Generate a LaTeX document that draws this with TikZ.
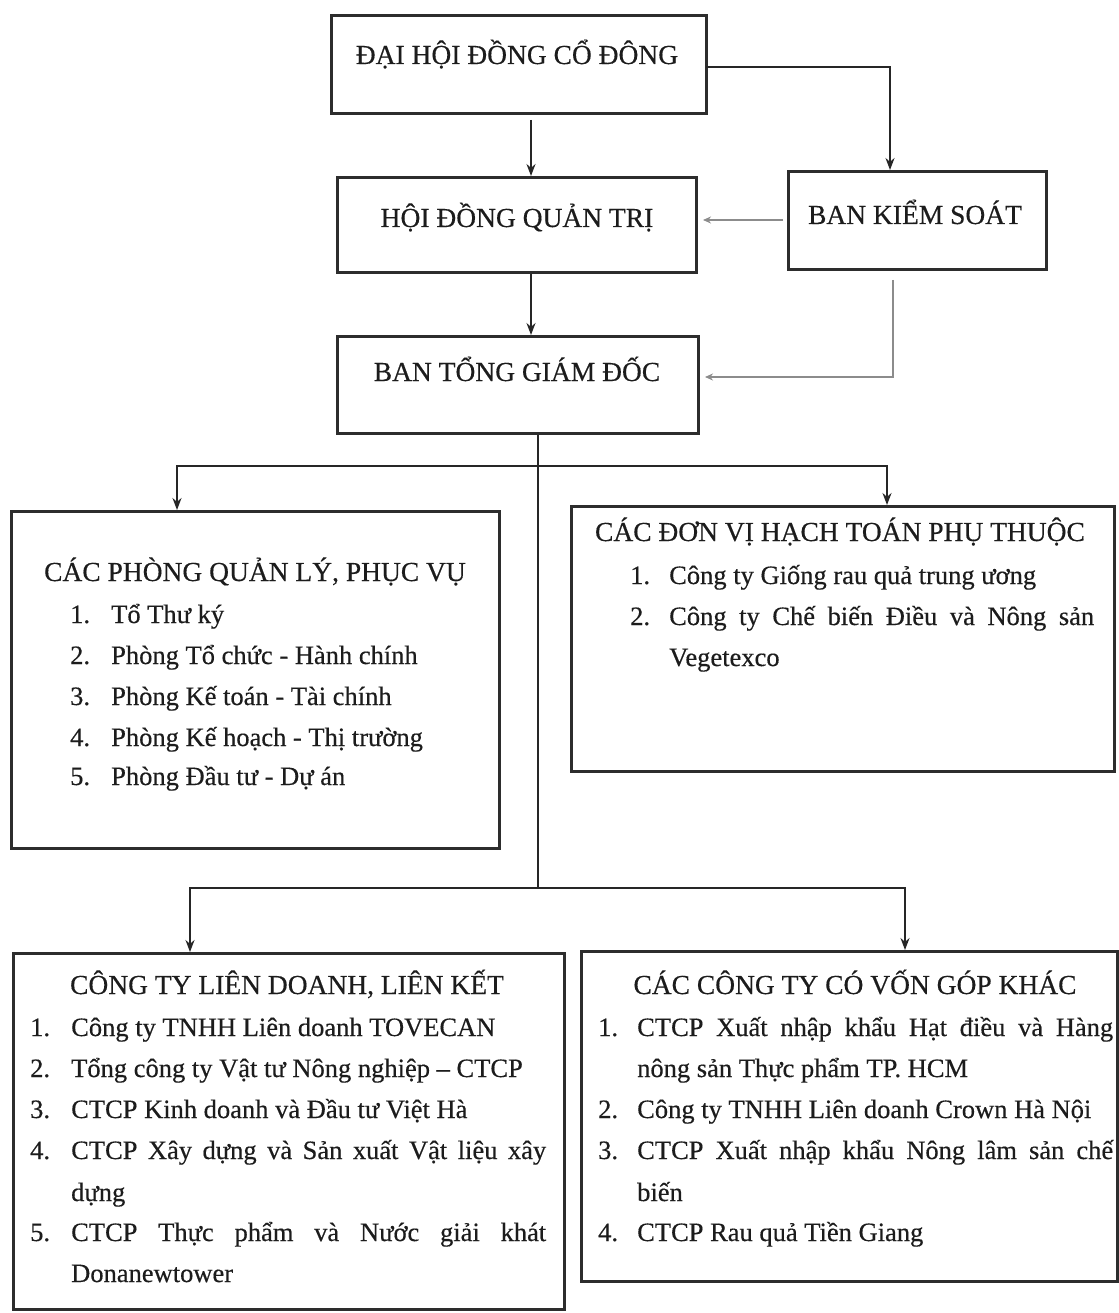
\documentclass[tikz,border=0pt]{standalone}
\usepackage{fontspec}
\setmainfont{Liberation Serif}
\newfontfamily\scanfont{Liberation Serif}[FakeBold=0.4]
\usetikzlibrary{arrows.meta}
\definecolor{txt}{RGB}{28,28,28}
\definecolor{boxc}{RGB}{45,45,45}
\definecolor{gline}{RGB}{140,140,140}
\begin{document}
\begin{tikzpicture}[x=1pt,y=-1pt,
  box/.style={draw=boxc, line width=3pt, inner sep=0pt, anchor=north west},
  conn/.style={draw=black!85, line width=1.6pt, -{Stealth[length=12pt,width=9pt]}},
  plain/.style={draw=black!85, line width=1.6pt},
  gconn/.style={draw=gline, line width=1.3pt, -{Stealth[length=8pt,width=7pt]}},
  ttl/.style={font=\scanfont\fontsize{27.5}{41}\selectfont, text=txt, inner sep=0pt, anchor=base},
  num/.style={font=\scanfont\fontsize{26.5}{41}\selectfont, text=txt, inner sep=0pt, anchor=base west},
  itm/.style={font=\scanfont\fontsize{26.5}{41}\selectfont, text=txt, inner sep=0pt, anchor=base west},
]
\useasboundingbox (0,0) rectangle (1118,1313);
\fill[white] (0,0) rectangle (1118,1313);

% ---- boxes
\node[box, minimum width=375pt, minimum height=98pt] (dh) at (330,14) {};
\node[box, minimum width=359pt, minimum height=95pt] (hd) at (336,176) {};
\node[box, minimum width=258pt, minimum height=98pt] (bks) at (787,170) {};
\node[box, minimum width=361pt, minimum height=97pt] (tgd) at (336,335) {};
\node[box, minimum width=488pt, minimum height=337pt] (pq) at (10,510) {};
\node[box, minimum width=543pt, minimum height=265pt] (dv) at (570,505) {};
\node[box, minimum width=551pt, minimum height=356pt] (ld) at (12,952) {};
\node[box, minimum width=536pt, minimum height=330pt] (vg) at (580,950) {};

% ---- box titles
\node[ttl] (tdh) at (517,64) {ĐẠI HỘI ĐỒNG CỔ ĐÔNG};
\node[ttl] (thd) at (517,227) {HỘI ĐỒNG QUẢN TRỊ};
\node[ttl] (tbks) at (915,224) {BAN KIỂM SOÁT};
\node[ttl] (ttgd) at (517,381) {BAN TỔNG GIÁM ĐỐC};
\node[ttl] (tpq) at (255,581) {CÁC PHÒNG QUẢN LÝ, PHỤC VỤ};
\node[ttl] (tdv) at (840,541) {CÁC ĐƠN VỊ HẠCH TOÁN PHỤ THUỘC};
\node[ttl] (tld) at (287,994) {CÔNG TY LIÊN DOANH, LIÊN KẾT};
\node[ttl] (tvg) at (855,994) {CÁC CÔNG TY CÓ VỐN GÓP KHÁC};

% ---- list: phong quan ly
\node[num] (pn1) at (70,623) {1.};  \node[itm] (pi1) at (111,623) {Tổ Thư ký};
\node[num] (pn2) at (70,664) {2.};  \node[itm] (pi2) at (111,664) {Phòng Tổ chức - Hành chính};
\node[num] (pn3) at (70,705) {3.};  \node[itm] (pi3) at (111,705) {Phòng Kế toán - Tài chính};
\node[num] (pn4) at (70,746) {4.};  \node[itm] (pi4) at (111,746) {Phòng Kế hoạch - Thị trường};
\node[num] (pn5) at (70,785) {5.};  \node[itm] (pi5) at (111,785) {Phòng Đầu tư - Dự án};

% ---- list: don vi hach toan
\node[num] (dn1) at (630,584) {1.};  \node[itm] (di1) at (669,584) {Công ty Giống rau quả trung ương};
\node[num] (dn2) at (630,625) {2.};  \node[itm] (di2) at (669,625) {\makebox[425pt][s]{Công ty Chế biến Điều và Nông sản}};
\node[itm] (di2b) at (669,666) {Vegetexco};

% ---- list: lien doanh lien ket
\node[num] (ln1) at (30,1036) {1.}; \node[itm] (li1) at (71,1036) {Công ty TNHH Liên doanh TOVECAN};
\node[num] (ln2) at (30,1077) {2.}; \node[itm] (li2) at (71,1077) {Tổng công ty Vật tư Nông nghiệp – CTCP};
\node[num] (ln3) at (30,1118) {3.}; \node[itm] (li3) at (71,1118) {CTCP Kinh doanh và Đầu tư Việt Hà};
\node[num] (ln4) at (30,1159) {4.}; \node[itm] (li4) at (71,1159) {\makebox[475pt][s]{CTCP Xây dựng và Sản xuất Vật liệu xây}};
\node[itm] (li4b) at (71,1201) {dựng};
\node[num] (ln5) at (30,1241) {5.}; \node[itm] (li5) at (71,1241) {\makebox[475pt][s]{CTCP Thực phẩm và Nước giải khát}};
\node[itm] (li5b) at (71,1282) {Donanewtower};

% ---- list: von gop khac
\node[num] (vn1) at (598,1036) {1.}; \node[itm] (vi1) at (637,1036) {\makebox[476pt][s]{CTCP Xuất nhập khẩu Hạt điều và Hàng}};
\node[itm] (vi1b) at (637,1077) {nông sản Thực phẩm TP. HCM};
\node[num] (vn2) at (598,1118) {2.}; \node[itm] (vi2) at (637,1118) {Công ty TNHH Liên doanh Crown Hà Nội};
\node[num] (vn3) at (598,1159) {3.}; \node[itm] (vi3) at (637,1159) {\makebox[476pt][s]{CTCP Xuất nhập khẩu Nông lâm sản chế}};
\node[itm] (vi3b) at (637,1201) {biến};
\node[num] (vn4) at (598,1241) {4.}; \node[itm] (vi4) at (637,1241) {CTCP Rau quả Tiền Giang};

% ---- helper coordinates
\coordinate (xa) at (531,0);
\coordinate (xk) at (890,0);
\coordinate (xc) at (538,0);
\coordinate (xl1) at (177,0);
\coordinate (xr1) at (887,0);
\coordinate (xl2) at (190,0);
\coordinate (xr2) at (905,0);
\coordinate (j1) at (538,466);
\coordinate (j2) at (538,888);
\coordinate (gs) at (893,280);
\coordinate (ks) at (706,67);

% ---- connectors
\draw[conn] ([yshift=-5pt]dh.south -| xa) -- (hd.north -| xa);
\draw[conn] (hd.south -| xa) -- (tgd.north -| xa);
\draw[conn] (ks) -| (bks.north -| xk);
\draw[gconn] ([xshift=-4pt]bks.west |- 0,220) -- ([xshift=5pt]hd.east |- 0,220);
\draw[gconn] (gs) |- ([xshift=5pt]tgd.east |- 0,377);
\draw[plain] (tgd.south -| xc) -- (j2);
\draw[conn] (j1) -| (pq.north -| xl1);
\draw[conn] (j1) -| (dv.north -| xr1);
\draw[conn] (j2) -| (ld.north -| xl2);
\draw[conn] (j2) -| (vg.north -| xr2);
\end{tikzpicture}
\end{document}
